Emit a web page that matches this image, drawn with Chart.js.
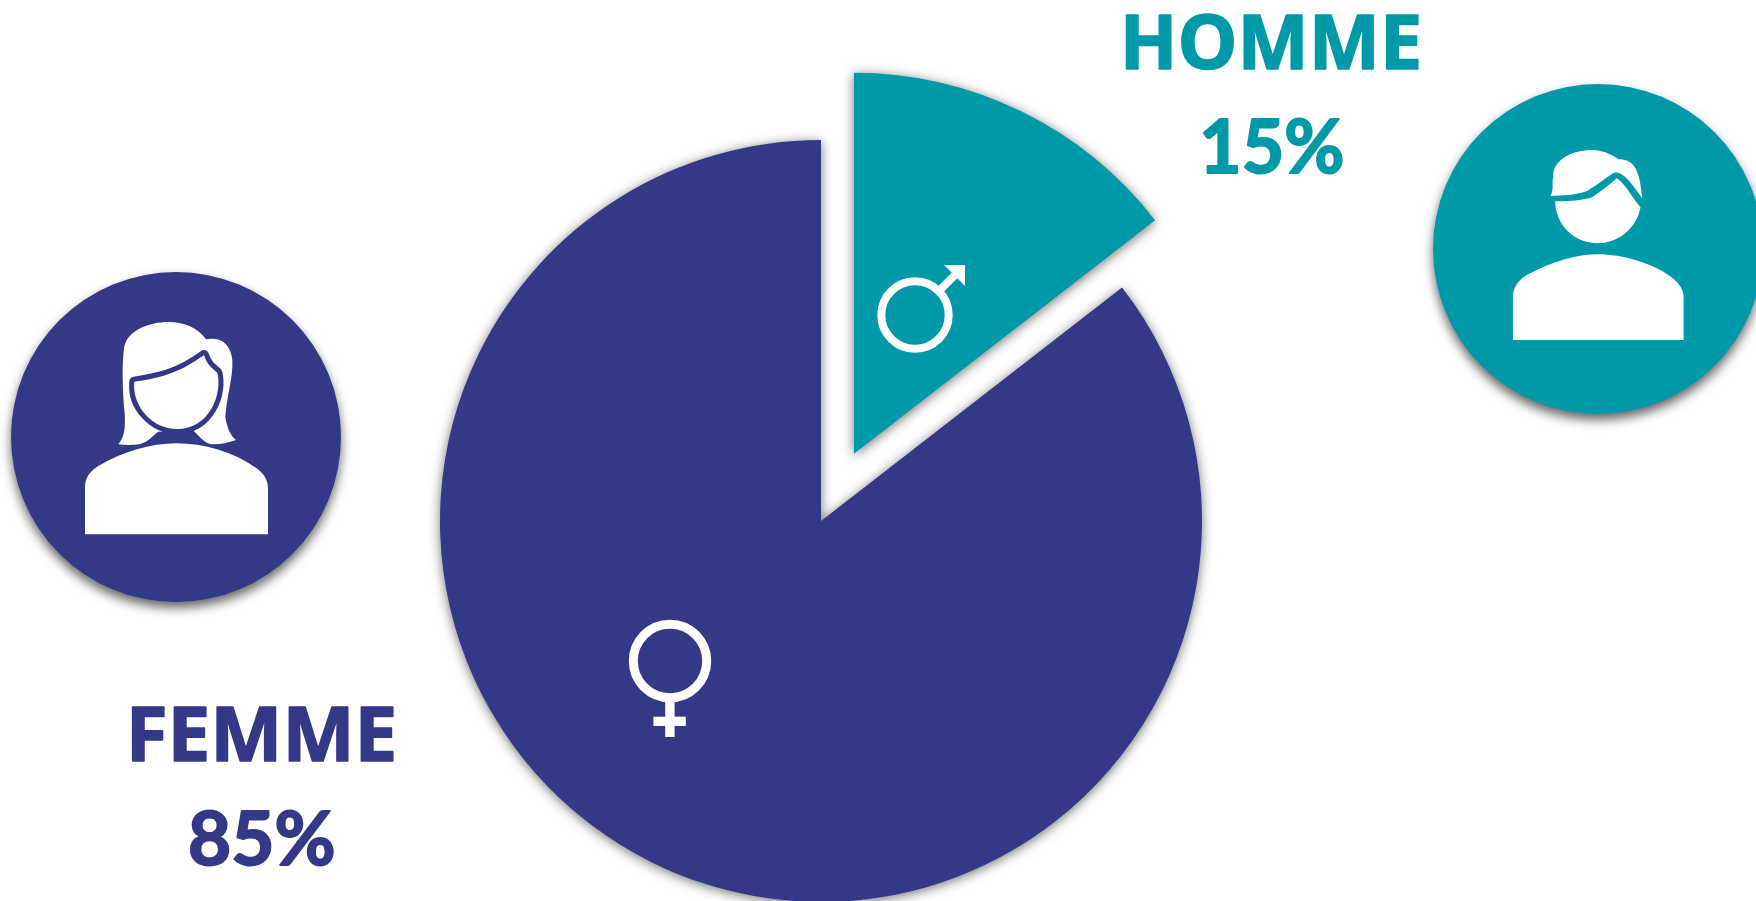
<!DOCTYPE html>
<html><head><meta charset="utf-8">
<style>html,body{margin:0;padding:0;background:#fff;overflow:hidden}#wrap{position:absolute;left:0;top:0;width:1756px;height:901px}</style>
<script src="https://cdn.jsdelivr.net/npm/chart.js@4/dist/chart.umd.min.js"></script>
</head><body><div id="wrap"><canvas id="c" width="1756" height="901"></canvas></div>
<script>
const categories = ['Homme', 'Femme'];
const shares = [14.5, 85.5];
const shareLabels = ['15%', '85%'];
const sliceColors = ['#0099A8', '#333987'];
const sliceOffsets = [300, 0];

function blit(ctx, cmds) {
  ctx.beginPath();
  for (const c of cmds) {
    if (c[0] === 'M') ctx.moveTo(c[1], c[2]);
    else if (c[0] === 'L') ctx.lineTo(c[1], c[2]);
    else if (c[0] === 'C') ctx.bezierCurveTo(c[1], c[2], c[3], c[4], c[5], c[6]);
    else ctx.closePath();
  }
}
const womanBody = [['M',255,823],['L',255,680],['C',255,650,275,630,295,618],['C',370,575,450,550,530,550],['C',610,550,700,575,770,625],['C',790,640,804,660,804,685],['L',804,823],['Z']];
const womanHair = [['M',355,553],['C',375,530,376,500,374,460],['C',368,400,365,320,372,265],['C',380,210,450,186,505,186],['C',555,186,595,205,618,238],['C',650,232,690,240,697,300],['C',700,350,680,410,676,470],['C',680,505,695,530,708,540],['C',680,550,650,555,630,552],['C',610,545,595,525,580,512],['L',475,515],['C',455,530,445,545,420,552],['C',400,556,375,555,355,553],['Z']];
const womanFace = [['M',403,365],['C',470,355,530,345,612,285],['C',620,310,630,320,652,338],['C',668,400,630,507,530,507],['C',460,507,395,440,403,365],['Z']];
const manBody = [['M',987,1020],['L',987,890],['C',987,860,1005,835,1020,825],['C',1080,785,1140,763,1190,763],['C',1250,763,1320,790,1365,830],['C',1385,850,1395,870,1395,890],['L',1395,1020],['Z']];
const manHair = [['M',1077,587],['C',1085,570,1080,550,1083,530],['C',1083,480,1125,450,1180,450],['C',1205,452,1225,465,1240,478],['C',1275,478,1290,505,1296,595],['C',1270,550,1255,520,1232,517],['C',1210,530,1190,555,1165,572],['C',1140,585,1105,587,1077,587],['Z']];
const manFace = [['M',1088,604],['C',1130,603,1160,600,1178,590],['C',1200,572,1220,552,1235,535],['C',1255,550,1270,590,1292,622],['C',1282,690,1235,730,1190,730],['C',1130,730,1088,670,1088,604],['Z']];

function fitText(ctx, text, family, pad, left, right, top, baseline, capRatio, color) {
  const size = (baseline - top - 2 * pad) / capRatio;
  ctx.save();
  ctx.font = 'bold ' + size + 'px ' + family;
  ctx.fillStyle = color;
  ctx.strokeStyle = color;
  ctx.lineWidth = 2 * pad;
  ctx.lineJoin = 'round';
  ctx.textBaseline = 'alphabetic';
  ctx.textAlign = 'left';
  const m = ctx.measureText(text);
  const w = m.actualBoundingBoxRight + m.actualBoundingBoxLeft;
  const sx = (right - left - 2 * pad) / w;
  ctx.translate(left + pad + m.actualBoundingBoxLeft * sx, baseline - pad);
  ctx.scale(sx, 1);
  ctx.fillText(text, 0, 0);
  ctx.strokeText(text, 0, 0);
  ctx.restore();
}

const decor = {
  id: 'decor',
  afterDatasetsUpdate(chart) {
    // an arc's offset also enlarges its radius and trims its angle; undo both so the slice keeps its size
    for (const arc of chart.getDatasetMeta(0).data) {
      const off = (arc.options.offset || 0) / 4;
      const grow = off * (1 - Math.sin(Math.min(Math.PI, arc.circumference)));
      if (!grow) continue;
      const trim = grow / Math.PI / arc.outerRadius / 2;
      arc.outerRadius -= grow;
      arc.startAngle -= trim;
      arc.endAngle += trim;
    }
  },
  beforeDatasetsDraw(chart) {
    const ctx = chart.ctx;
    ctx.save();
    ctx.shadowColor = 'rgba(0,0,0,0.55)';
    ctx.shadowBlur = 12;
    ctx.shadowOffsetY = 2;
  },
  afterDatasetsDraw(chart) {
    const ctx = chart.ctx;
    ctx.restore();
    const teal = sliceColors[0], navy = sliceColors[1];

    // portrait discs
    ctx.save();
    ctx.shadowColor = 'rgba(0,0,0,0.6)';
    ctx.shadowBlur = 11; ctx.shadowOffsetY = 6;
    ctx.fillStyle = navy; ctx.beginPath(); ctx.arc(176, 437, 165, 0, Math.PI*2); ctx.fill();
    ctx.fillStyle = teal; ctx.beginPath(); ctx.arc(1598, 249, 165, 0, Math.PI*2); ctx.fill();
    ctx.restore();

    // woman
    ctx.save();
    ctx.translate(0, 260); ctx.scale(1/3, 1/3);
    ctx.fillStyle = '#fff';
    blit(ctx, womanBody); ctx.fill();
    blit(ctx, womanHair); ctx.fill();
    blit(ctx, womanFace); ctx.lineJoin = 'round'; ctx.strokeStyle = navy; ctx.lineWidth = 30; ctx.stroke(); ctx.fill();
    ctx.restore();

    // man
    ctx.save();
    ctx.translate(1100, 0); ctx.scale(656/1568, 1/3);
    ctx.fillStyle = '#fff';
    blit(ctx, manBody); ctx.fill();
    blit(ctx, manHair); ctx.fill();
    blit(ctx, manFace); ctx.fill();
    ctx.restore();

    // male symbol
    ctx.save();
    ctx.strokeStyle = '#fff'; ctx.fillStyle = '#fff'; ctx.lineWidth = 8;
    ctx.beginPath(); ctx.arc(915, 315, 33.7, 0, Math.PI*2); ctx.stroke();
    ctx.beginPath(); ctx.moveTo(939, 291); ctx.lineTo(956, 274); ctx.stroke();
    ctx.beginPath(); ctx.moveTo(944, 265); ctx.lineTo(965, 265); ctx.lineTo(965, 286); ctx.closePath(); ctx.fill();
    // female symbol
    ctx.lineWidth = 9;
    ctx.beginPath(); ctx.arc(670, 661, 36.7, 0, Math.PI*2); ctx.stroke();
    ctx.fillRect(665.2, 701, 9.4, 36);
    ctx.fillRect(653.4, 716.7, 32.4, 9.3);
    ctx.restore();

    // labels
    fitText(ctx, categories[0].toUpperCase(), '"Open Sans"', 0.75, 1125, 1419, 15, 70, 0.714, teal);
    fitText(ctx, shareLabels[0], 'Lato', 1, 1202, 1343, 118, 174, 0.72, teal);
    fitText(ctx, categories[1].toUpperCase(), '"Open Sans"', 0.75, 131, 394, 707, 762, 0.714, navy);
    fitText(ctx, shareLabels[1], 'Lato', 1, 189, 334, 810, 866, 0.72, navy);
  }
};

new Chart(document.getElementById('c'), {
  type: 'pie',
  data: {
    labels: categories,
    datasets: [{ data: shares, backgroundColor: sliceColors, offset: sliceOffsets, borderWidth: 0, clip: false }]
  },
  options: {
    responsive: false,
    animation: false,
    radius: 381,
    layout: { padding: { left: 0, right: 114, top: 141, bottom: 0 } },
    plugins: { legend: { display: false }, tooltip: { enabled: false } }
  },
  plugins: [decor]
});
</script></body></html>
